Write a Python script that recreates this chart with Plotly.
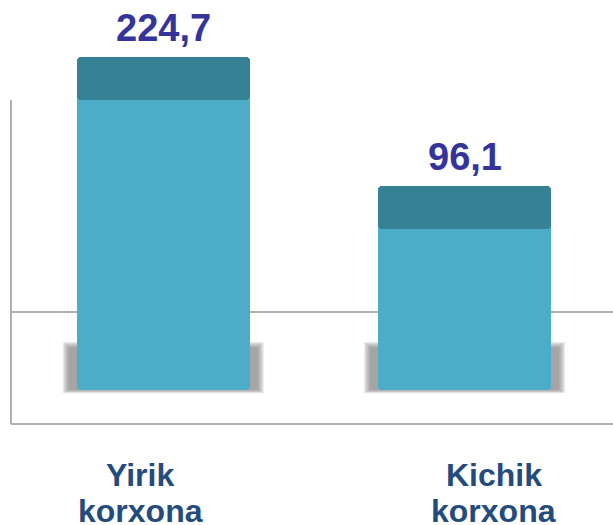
import plotly.graph_objects as go

# ---- data ----
categories = ["Yirik korxona", "Kichik korxona"]
values = [224.7, 96.1]

# ---- style / layout constants ----
W, H = 613, 525
Y_MIN, Y_MAX = -107.27, 281.52      # axis range (value at plot bottom / top)
PLOT_BOTTOM_PX = 390
CAP = 42.9                          # darker top face height (axis units)
BAR_W = 0.5726
SHADOW_W = 0.667
MAIN_COLOR = "#4badc8"
CAP_COLOR = "#378194"
VALUE_COLOR = "#34349a"
CAT_COLOR = "#234b7c"
LINE_COLOR = "#b0b0b0"
FONT = "Liberation Sans, Arial, sans-serif"
CAT_XSHIFT = [-23, 29]

x = list(range(len(categories)))
fmt = [f"{v:.1f}".replace(".", ",") for v in values]

fig = go.Figure()

# main body of each bar (from axis floor to value)
fig.add_trace(go.Bar(
    x=x, y=[v - Y_MIN for v in values], base=[Y_MIN] * len(values),
    width=BAR_W, marker=dict(color=MAIN_COLOR, line=dict(width=0), cornerradius=4),
    hoverinfo="skip", showlegend=False,
))
# darker cap on top of each bar
fig.add_trace(go.Bar(
    x=x, y=[CAP] * len(values), base=[v - CAP for v in values],
    width=BAR_W, marker=dict(color=CAP_COLOR, line=dict(width=0), cornerradius=4),
    hoverinfo="skip", showlegend=False,
))

def py(p):
    return 1 - p / H

shapes = []
# blurred floor shadows behind each bar
for i in x:
    for k in range(6):
        inset_x = k * 0.004
        shapes.append(dict(
            type="rect", xref="x", yref="paper", layer="below",
            x0=i - SHADOW_W / 2 + inset_x, x1=i + SHADOW_W / 2 - inset_x,
            y0=py(393 - k * 0.6), y1=py(342 + k * 1.1),
            fillcolor="rgba(120,120,120,0.16)", line=dict(width=0),
        ))
# frame lines of the floor
shapes += [
    dict(type="line", xref="paper", yref="paper", layer="below",
         x0=11 / W, x1=11 / W, y0=py(424), y1=py(100),
         line=dict(color=LINE_COLOR, width=2)),
    dict(type="line", xref="paper", yref="paper", layer="below",
         x0=11 / W, x1=1, y0=py(312), y1=py(312),
         line=dict(color=LINE_COLOR, width=2)),
    dict(type="line", xref="paper", yref="paper", layer="below",
         x0=11 / W, x1=1, y0=py(424), y1=py(424),
         line=dict(color=LINE_COLOR, width=2)),
]

annotations = []
# value labels above the bars
for i, v, t in zip(x, values, fmt):
    annotations.append(dict(
        x=i, xref="x", y=v, yref="y", text=t, showarrow=False,
        xanchor="center", yanchor="middle", yshift=29,
        font=dict(family=FONT, size=38, color=VALUE_COLOR, weight="bold"),
    ))
# category labels (two lines)
for i, cat, xs in zip(x, categories, CAT_XSHIFT):
    first, second = cat.split(" ", 1)
    for txt, yp in ((first, 475), (second, 511)):
        annotations.append(dict(
            x=i, xref="x", y=py(yp), yref="paper", text=txt, showarrow=False,
            xanchor="center", yanchor="middle", xshift=xs,
            font=dict(family=FONT, size=32, color=CAT_COLOR, weight="bold"),
        ))

fig.update_layout(
    width=W, height=H, margin=dict(l=0, r=0, t=0, b=0),
    paper_bgcolor="white", plot_bgcolor="white",
    barmode="overlay", bargap=0,
    xaxis=dict(range=[-0.5419, 1.4929], visible=False, fixedrange=True),
    yaxis=dict(range=[Y_MIN, Y_MAX], domain=[1 - PLOT_BOTTOM_PX / H, 1],
               visible=False, fixedrange=True),
    shapes=shapes, annotations=annotations,
)

fig.write_html("out.html", post_script="document.body.style.margin='0px';",
               config={"displayModeBar": False})
